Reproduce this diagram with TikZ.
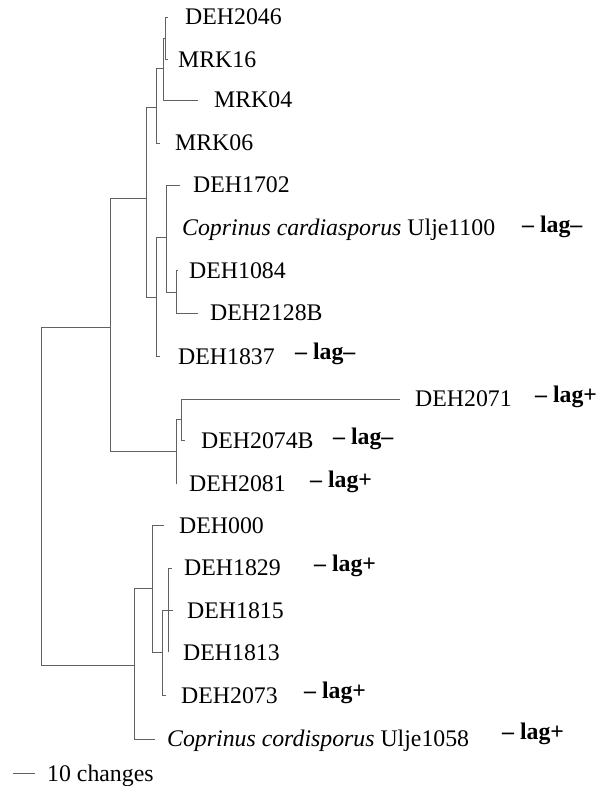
\documentclass[tikz,border=0pt]{standalone}
\usepackage{fontspec}
\setmainfont{Liberation Serif}
\begin{document}
\begin{tikzpicture}[x=1pt,y=-1pt,
  br/.style={draw=black!62,line width=0.9pt},
  lf/.style={anchor=base west,inner sep=0pt,font=\fontsize{23.8}{28}\selectfont},
  lg/.style={anchor=base west,inner sep=0pt,font=\fontsize{23.8}{28}\selectfont\bfseries}]
\useasboundingbox (0,0) rectangle (598,786);
% internal nodes
\coordinate (root) at (41,496);
\coordinate (A) at (110,327);
\coordinate (B) at (134,665);
\coordinate (A1) at (146,198);
\coordinate (A2) at (176,451);
\coordinate (A1a) at (156,107);
\coordinate (A1b) at (156,297);
\coordinate (N1) at (163.3,68);
\coordinate (N2) at (165.5,38);
\coordinate (C) at (166.7,237);
\coordinate (D) at (176,292);
\coordinate (E) at (181.7,419);
\coordinate (F) at (152,588);
\coordinate (G) at (162,652.7);
\coordinate (H) at (168.3,610);
% leaf tips
\coordinate (tDEH2046) at (168,17);
\coordinate (tMRK16) at (167.5,59);
\coordinate (tMRK04) at (198,100);
\coordinate (tMRK06) at (160,143);
\coordinate (tDEH1702) at (180,185);
\coordinate (tCcard) at (166.7,228);
\coordinate (tDEH1084) at (178,270);
\coordinate (tDEH2128B) at (198,313);
\coordinate (tDEH1837) at (160,356);
\coordinate (tDEH2071) at (400,399);
\coordinate (tDEH2074B) at (184.5,440);
\coordinate (tDEH2081) at (175.7,483);
\coordinate (tDEH000) at (164,525);
\coordinate (tDEH1829) at (172,568);
\coordinate (tDEH1815) at (173,610);
\coordinate (tDEH1813) at (168.3,652);
\coordinate (tDEH2073) at (166,695);
\coordinate (tCcord) at (155,739);
% branches
\draw[br] (root) |- (A);
\draw[br] (root) |- (B);
\draw[br] (A) |- (A1);
\draw[br] (A) |- (A2);
\draw[br] (A1) |- (A1a);
\draw[br] (A1) |- (A1b);
\draw[br] (A1a) |- (N1);
\draw[br] (A1a) |- (tMRK06);
\draw[br] (N1) |- (N2);
\draw[br] (N1) |- (tMRK04);
\draw[br] (N2) |- (tDEH2046);
\draw[br] (N2) |- (tMRK16);
\draw[br] (A1b) |- (C);
\draw[br] (A1b) |- (tDEH1837);
\draw[br] (C) |- (tDEH1702);
\draw[br] (C) |- (tCcard);
\draw[br] (C) |- (D);
\draw[br] (D) |- (tDEH1084);
\draw[br] (D) |- (tDEH2128B);
\draw[br] (A2) |- (E);
\draw[br] (A2) |- (tDEH2081);
\draw[br] (E) |- (tDEH2071);
\draw[br] (E) |- (tDEH2074B);
\draw[br] (B) |- (F);
\draw[br] (B) |- (tCcord);
\draw[br] (F) |- (tDEH000);
\draw[br] (F) |- (G);
\draw[br] (G) |- (H);
\draw[br] (G) |- (tDEH2073);
\draw[br] (H) |- (tDEH1829);
\draw[br] (H) |- (tDEH1813);
\draw[br] (H) -- (tDEH1815);
% leaf labels
\node[lf] (lDEH2046) at (185,25) {DEH2046};
\node[lf] (lMRK16) at (178,68) {MRK16};
\node[lf] (lMRK04) at (214,108) {MRK04};
\node[lf] (lMRK06) at (175,151) {MRK06};
\node[lf] (lDEH1702) at (193,193) {DEH1702};
\node[lf] (lCcard) at (182,236) {\textit{Coprinus cardiasporus} Ulje1100};
\node[lf] (lDEH1084) at (189,278) {DEH1084};
\node[lf] (lDEH2128B) at (210,320) {DEH2128B};
\node[lf] (lDEH1837) at (178,364) {DEH1837};
\node[lf] (lDEH2071) at (415,406) {DEH2071};
\node[lf] (lDEH2074B) at (201,448) {DEH2074B};
\node[lf] (lDEH2081) at (189,491) {DEH2081};
\node[lf] (lDEH000) at (179,533) {DEH000};
\node[lf] (lDEH1829) at (184,575) {DEH1829};
\node[lf] (lDEH1815) at (187,618) {DEH1815};
\node[lf] (lDEH1813) at (183,660) {DEH1813};
\node[lf] (lDEH2073) at (181,703) {DEH2073};
\node[lf] (lCcord) at (167,746) {\textit{Coprinus cordisporus} Ulje1058};
% lag labels
\node[lg] (g1) at (522,233) {– lag–};
\node[lg] (g2) at (295,359) {– lag–};
\node[lg] (g3) at (535,402) {– lag+};
\node[lg] (g4) at (333,444) {– lag–};
\node[lg] (g5) at (310,487) {– lag+};
\node[lg] (g6) at (314,571) {– lag+};
\node[lg] (g7) at (304,698) {– lag+};
\node[lg] (g8) at (502,739) {– lag+};
% scale bar
\coordinate (s1) at (13,773);
\coordinate (s2) at (35,773);
\draw[br] (s1) -- (s2);
\node[lf] (scale) at (47,781) {10 changes};
\end{tikzpicture}
\end{document}
